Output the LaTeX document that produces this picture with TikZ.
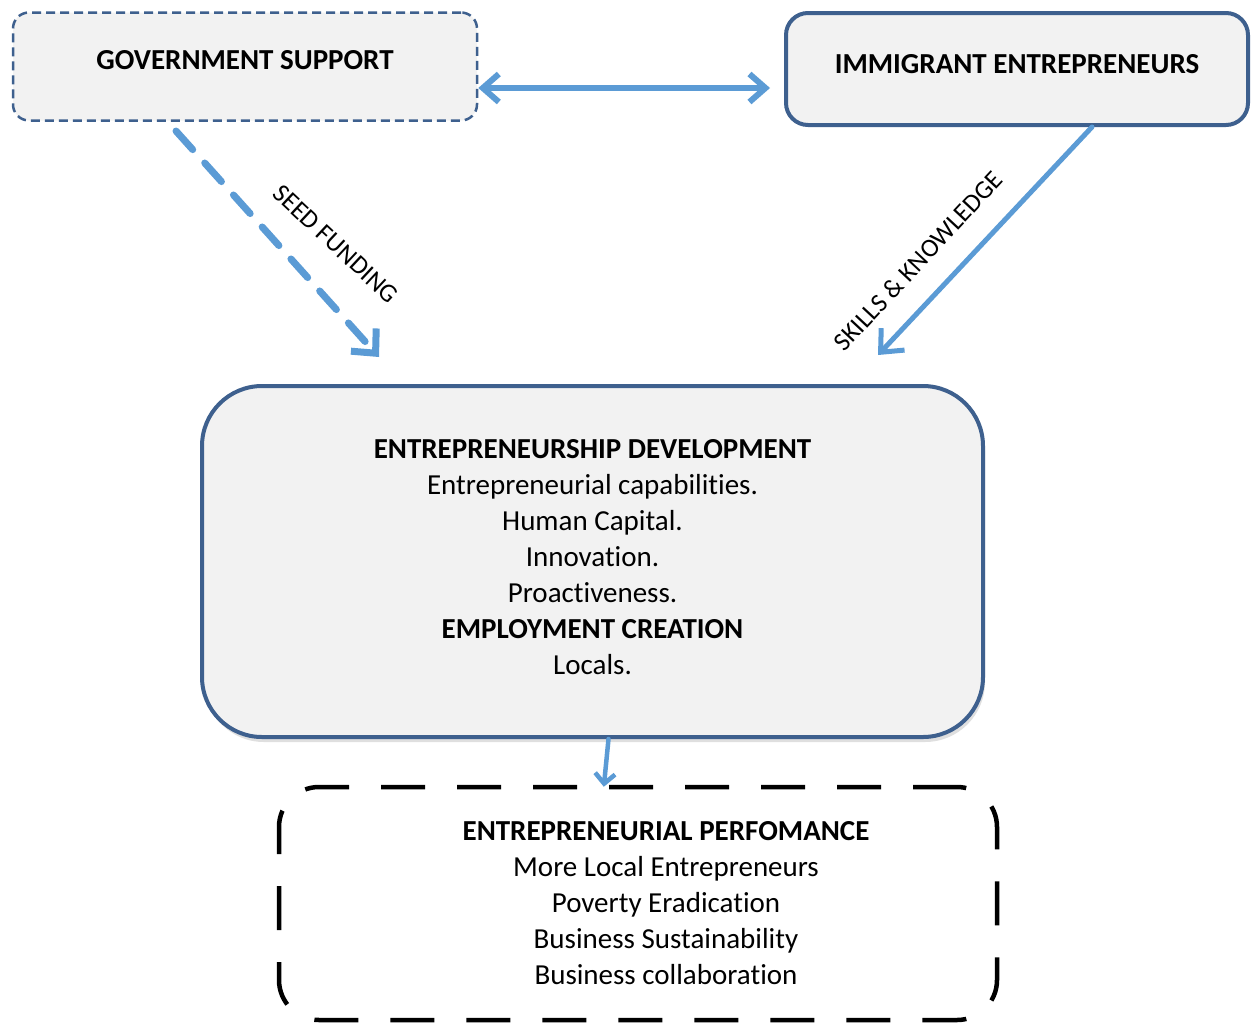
\documentclass[tikz,border=0pt]{standalone}
\usepackage{fontspec}
\setmainfont{Carlito}[Ligatures=NoCommon]
\usetikzlibrary{arrows.meta,shadows}
\definecolor{boxblue}{RGB}{62,96,142}
\definecolor{arrowblue}{RGB}{91,155,213}
\definecolor{boxgrey}{RGB}{242,242,242}

\begin{document}
\begin{tikzpicture}[x=1pt,y=-1pt]
	\tikzstyle{textfont}=[font=\fontsize{29}{36}\selectfont,align=center]
	\tikzstyle{govbox}=[draw=boxblue,line width=2.5pt,dash pattern=on 9pt off 5pt,fill=boxgrey,rounded corners=16pt,minimum width=464pt,minimum height=108pt]
	\tikzstyle{actorbox}=[draw=boxblue,line width=4pt,fill=boxgrey,rounded corners=22pt,minimum width=462pt,minimum height=112pt]
	\tikzstyle{devbox}=[draw=boxblue,line width=4pt,fill=boxgrey,rounded corners=60pt,minimum width=781pt,minimum height=351pt,drop shadow={shadow xshift=2pt,shadow yshift=-5pt,fill=black!25}]
	\tikzstyle{perfbox}=[draw=black,line width=4.5pt,dash pattern=on 44pt off 32pt,rounded corners=40pt,minimum width=718pt,minimum height=233pt]
	\tikzstyle{flow}=[draw=arrowblue,line cap=round,line join=round]
	\tikzstyle{tag}=[font=\fontsize{26}{30}\selectfont]
	\useasboundingbox (0,0) rectangle (1253,1026);
	\begin{scope}
		\node [govbox,label={[textfont,yshift=6pt]center:\textbf{GOVERNMENT SUPPORT}}] (gov) at (245,66.5) {};
		\node [actorbox,label={[textfont,yshift=5pt]center:\textbf{IMMIGRANT ENTREPRENEURS}}] (imm) at (1017,69) {};
		\node [devbox,label={[textfont,yshift=4pt]center:{\textbf{ENTREPRENEURSHIP DEVELOPMENT}\\
			Entrepreneurial capabilities.\\
			Human Capital.\\
			Innovation.\\
			Proactiveness.\\
			\textbf{EMPLOYMENT CREATION}\\
			Locals.}}] (dev) at (592.5,561.5) {};
		\node [perfbox,label={[textfont,xshift=28pt]center:{\textbf{ENTREPRENEURIAL PERFOMANCE}\\
			More Local Entrepreneurs\\
			Poverty Eradication\\
			Business Sustainability\\
			Business collaboration}}] (perf) at (638,903.5) {};

		% loose arrow ends
		\coordinate (fundstart) at (176,131);
		\coordinate (fundend) at (379,357);
		\coordinate (skillstart) at (1092,127);
		\coordinate (skillend) at (878,355);

		\path[flow,line width=6pt,{Straight Barb[length=16pt,width=28pt]}-{Straight Barb[length=16pt,width=28pt]},shorten >=14pt] (gov.east |- 0,88) -- (imm.west |- 0,88);
		\path[flow,line width=7pt,dash pattern=on 25pt off 18pt,-{Straight Barb[length=18pt,width=34pt]}] (fundstart) -- (fundend);
		\path[flow,line width=5pt,-{Straight Barb[length=18pt,width=32pt]}] (skillstart) -- (skillend);
		\path[flow,line width=4.5pt,-{Straight Barb[length=10pt,width=20pt]},shorten >=-2pt] ([xshift=16pt]dev.south) -- ([xshift=-34pt]perf.north);

		\node [tag,rotate=-43] (fund) at (336,244) {SEED FUNDING};
		\node [tag,rotate=47] (skill) at (918,261) {SKILLS \& KNOWLEDGE};
	\end{scope}
\end{tikzpicture}
\end{document}
